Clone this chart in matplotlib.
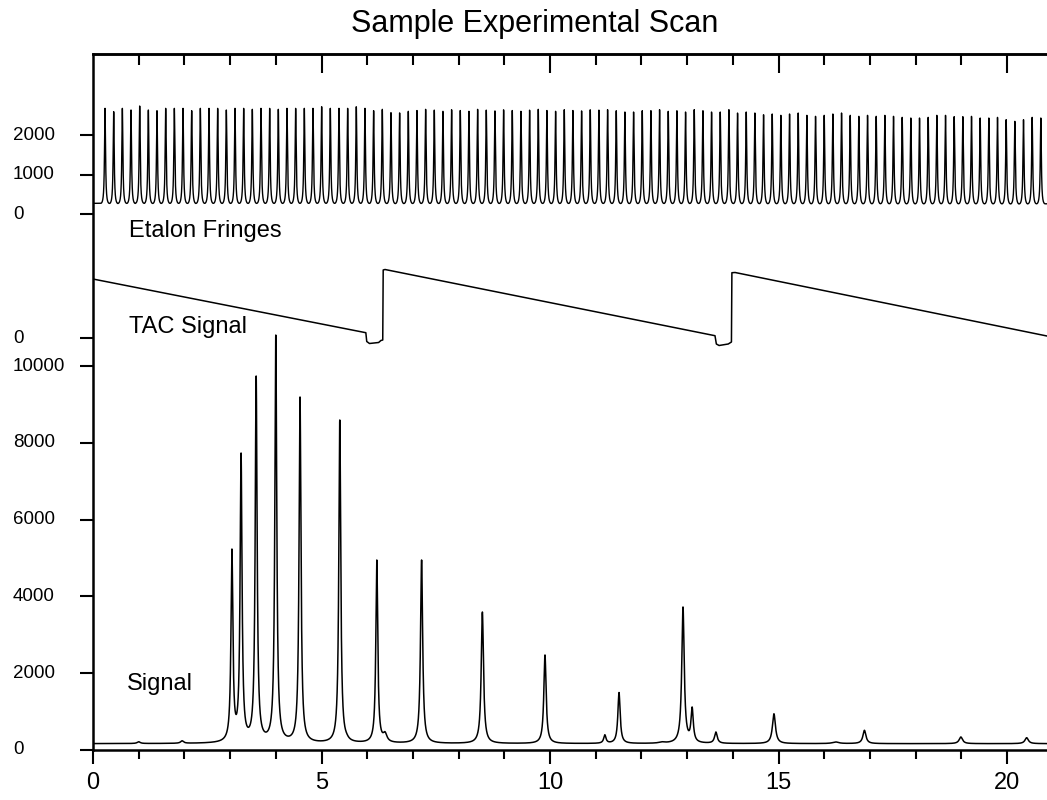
import numpy as np
import matplotlib
matplotlib.use("Agg")
import matplotlib.pyplot as plt
from matplotlib.transforms import blended_transform_factory

plt.rcParams['font.family'] = ['Liberation Sans', 'DejaVu Sans']

# ---------------- data ----------------
title = "Sample Experimental Scan"
x_ticks = [0, 5, 10, 15, 20]
x_tick_labels = ["0", "5", "10", "15", "20"]

# Signal: peak positions, peak heights (counts) and half widths
signal_peak_x = [1.00, 1.95, 3.04, 3.24, 3.57, 4.00, 4.53, 5.40, 5.55, 6.21, 6.39,
                 7.19, 8.52, 9.89, 11.20, 11.51, 12.45, 12.91, 13.11, 13.63,
                 14.90, 16.25, 16.88, 18.99, 20.43]
signal_peak_h = [215, 240, 5234, 7734, 9740, 10807, 9193, 8594, 440, 4948, 477,
                 4948, 3594, 2474, 397, 1497, 215, 3724, 1120, 469,
                 943, 210, 513, 339, 320]
signal_peak_w = [0.04, 0.04, 0.025, 0.025, 0.025, 0.025, 0.025, 0.025, 0.05, 0.025, 0.05,
                 0.028, 0.03, 0.03, 0.03, 0.03, 0.08, 0.032, 0.03, 0.035,
                 0.04, 0.08, 0.04, 0.045, 0.045]
signal_baseline = 165
signal_ticks = [0, 2000, 4000, 6000, 8000, 10000]

# Etalon fringes: first fringe position, fringe spacing, fringe peak heights
etalon_first = 0.263
etalon_spacing = 0.1896
etalon_peaks = [2675, 2591, 2675, 2633, 2734, 2633, 2616, 2675, 2675, 2675, 2616, 2675,
                2675, 2675, 2633, 2675, 2675, 2650, 2675, 2675, 2650, 2675, 2675, 2675,
                2675, 2717, 2675, 2675, 2675, 2717, 2675, 2616, 2650, 2565, 2560,
                2600, 2620, 2650, 2630, 2600, 2640, 2620, 2600, 2650, 2630, 2610, 2640,
                2620, 2600, 2630, 2650, 2620, 2600, 2640, 2620, 2610, 2640, 2630,
                2641, 2616, 2582, 2582, 2616, 2616, 2641, 2599, 2616, 2582,
                2641, 2616, 2582, 2582, 2641, 2557, 2582, 2557, 2515, 2532,
                2498, 2532, 2557, 2498, 2473, 2498, 2532, 2557, 2498, 2473,
                2498, 2473, 2498, 2473, 2447, 2430, 2430, 2447, 2498, 2498,
                2464, 2464, 2473, 2430, 2430, 2447, 2388, 2346, 2388, 2447, 2430]
etalon_min = 150
etalon_finesse_coef = 20
etalon_ticks = [0, 1000, 2000]

# TAC signal (sawtooth) vertices
tac_x = [0.0, 5.97, 5.99, 6.05, 6.25, 6.30, 6.34, 6.35, 6.39,
         13.61, 13.64, 13.70, 13.90, 13.97, 13.98, 14.05, 20.875]
tac_y = [1536, 138, -91, -143, -117, -65, -52, 1771, 1784,
         60, -156, -195, -156, -104, 1700, 1706, 52]
tac_ticks = [0]

# ---------------- layout ----------------
W, H = 1047, 800
fig = plt.figure(figsize=(W / 100, H / 100), dpi=100)
ax = fig.add_axes([93 / W, 50 / H, (W - 93) / W, (H - 50 - 54) / H])
X_MAX = 20.875
Y_TOP = 18125
ETALON_ZERO = 13958
ETALON_SCALE = 1.0286
TAC_ZERO = 10729
ax.set_xlim(0, X_MAX)
ax.set_ylim(0, Y_TOP)

x = np.linspace(0, X_MAX, 40000)

# Signal trace (Lorentzian lines whose maxima match the read heights)
px = np.array(signal_peak_x)
ph = np.array(signal_peak_h, dtype=float)
pw = np.array(signal_peak_w)
M = pw[None, :] ** 2 / ((px[:, None] - px[None, :]) ** 2 + pw[None, :] ** 2)
amps = np.linalg.solve(M, ph - signal_baseline)
sig = signal_baseline + (amps[None, :] * pw[None, :] ** 2 /
                         ((x[:, None] - px[None, :]) ** 2 + pw[None, :] ** 2)).sum(axis=1)
ax.plot(x, sig, color='black', lw=1.1)

# Etalon trace (Airy fringes, one per listed peak)
ep = np.array(etalon_peaks, dtype=float)
idx = np.clip(np.round((x - etalon_first) / etalon_spacing), 0, len(ep) - 1).astype(int)
xk = etalon_first + idx * etalon_spacing
phase = np.sin(np.pi * (x - xk) / etalon_spacing) ** 2
phase = np.where(np.abs(x - xk) > etalon_spacing / 2, 1.0, phase)
et = etalon_min + (ep[idx] - etalon_min) / (1 + etalon_finesse_coef * phase)
ax.plot(x, ETALON_ZERO + ETALON_SCALE * et, color='black', lw=1.0)

# TAC trace
ax.plot(tac_x, TAC_ZERO + np.array(tac_y), color='black', lw=1.1)

# spines
for s in ['left', 'bottom', 'top']:
    ax.spines[s].set_linewidth(1.8)
ax.spines['right'].set_visible(False)

# x ticks (bottom, outward)
ax.set_xticks(x_ticks)
ax.set_xticks(range(0, 21), minor=True)
ax.set_xticklabels(x_tick_labels, fontsize=17)
ax.tick_params(axis='x', which='major', direction='out', length=10, width=1.5, pad=6)
ax.tick_params(axis='x', which='minor', direction='out', length=6.3, width=1.5)

# top ticks (inward)
sec = ax.secondary_xaxis('top')
sec.set_xticks([5, 10, 15, 20])
sec.set_xticks(range(1, 21), minor=True)
sec.tick_params(which='major', direction='in', length=14, width=1.5, labeltop=False)
sec.tick_params(which='minor', direction='in', length=8, width=1.5)
sec.spines['top'].set_linewidth(1.8)

# y ticks (left, outward) with left-aligned labels
ytick_pos = ([v for v in signal_ticks] + [TAC_ZERO + v for v in tac_ticks] +
             [ETALON_ZERO + ETALON_SCALE * v for v in etalon_ticks])
ytick_lab = ([str(v) for v in signal_ticks] + [str(v) for v in tac_ticks] +
             [str(v) for v in etalon_ticks])
ax.set_yticks(ytick_pos)
ax.set_yticklabels([])
ax.tick_params(axis='y', direction='out', length=9.4, width=1.5)
trans = blended_transform_factory(fig.transFigure, ax.transData)
for pos, lab in zip(ytick_pos, ytick_lab):
    ax.text(13 / W, pos, lab, transform=trans, ha='left', va='center', fontsize=13.5)

# trace labels
ax.text(0.79, 13359, "Etalon Fringes", fontsize=17, ha='left', va='baseline')
ax.text(0.79, 10859, "TAC Signal", fontsize=17, ha='left', va='baseline')
ax.text(0.74, 1562, "Signal", fontsize=17, ha='left', va='baseline')

fig.text(535 / W, 1 - 32 / H, title, fontsize=22, ha='center', va='baseline')

fig.savefig("out.png", dpi=100)
